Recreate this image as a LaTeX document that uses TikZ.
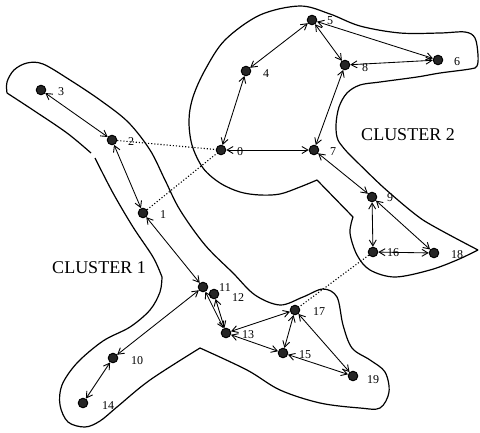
\documentclass[tikz,border=0pt]{standalone}
\usepackage{fontspec}
\setmainfont{Liberation Serif}
\usetikzlibrary{arrows.meta}
\begin{document}
\begin{tikzpicture}[x=1pt,y=-1pt,
  vtx/.style={circle, draw=black, line width=1pt, fill=black!85, inner sep=0pt, minimum size=9.5pt},
  lbl/.style={font=\fontsize{12}{14}\selectfont, inner sep=0pt},
  clab/.style={font=\fontsize{18}{20}\selectfont, inner sep=0pt},
  edge/.style={{Straight Barb[length=6pt,width=7pt,line width=0.9pt]}-{Straight Barb[length=6pt,width=7pt,line width=0.9pt]}, line width=0.85pt},
  dotl/.style={dotted, line width=1.1pt},
  outline/.style={line width=1.2pt, line join=round}]
\useasboundingbox (0,0) rectangle (480,432);

% cluster 2 outline
\draw[outline] plot[smooth, tension=0.55] coordinates {(478,250) (457,260) (430,270) (395,277) (370,270) (357,255) (350,233) (353,217)}
  -- (317,180)
  -- plot[smooth, tension=0.55] coordinates {(317,180) (300,187) (280,194) (260,195) (240,192) (220,183) (203,168) (192,145) (189,120) (193,97) (205,70) (225,40) (260,15) (300,6) (330,14) (360,26) (400,33) (440,33) (465,32) (475,38) (478,55) (477,66) (470,69) (440,73) (417,77) (380,82) (360,85) (347,93) (339,107) (336,125) (338,140) (348,153)}
  -- plot[smooth, tension=0.4] coordinates {(348,153) (383,187) (423,220) (478,250)};

% cluster 1 outline
\draw[outline] plot[smooth, tension=0.55] coordinates {(7,93) (7,82) (14,70) (27,63) (43,64) (70,80) (100,100) (128,122) (150,150) (165,180) (180,210) (205,245) (233,273) (255,295) (280,305) (303,297) (323,289) (337,297) (343,325) (352,348) (370,360) (385,372) (389,392) (380,408) (360,408) (320,403) (280,390) (247,370) (200,348)}
  -- plot[smooth, tension=0.55] coordinates {(200,348) (150,380) (117,407) (100,421) (85,427) (68,422) (60,405) (62,385) (77,363) (103,341) (130,327) (150,310) (160,292) (162,277)}
  -- plot[smooth, tension=0.55] coordinates {(162,277) (153,257) (133,227) (113,193) (95,158)};
\draw[outline] plot[smooth, tension=0.55] coordinates {(91,153) (67,133) (33,110) (7,93)};

% vertices
\node[vtx] (v0) at (221,150) {};
\node[vtx] (v1) at (143,213) {};
\node[vtx] (v2) at (112,140) {};
\node[vtx] (v3) at (41,90) {};
\node[vtx] (v4) at (246,71) {};
\node[vtx] (v5) at (312,20) {};
\node[vtx] (v6) at (438,60) {};
\node[vtx] (v7) at (314,150) {};
\node[vtx] (v8) at (345,65) {};
\node[vtx] (v9) at (372,197) {};
\node[vtx] (v10) at (113,358) {};
\node[vtx] (v11) at (203,287) {};
\node[vtx] (v12) at (214,294) {};
\node[vtx] (v13) at (226,333) {};
\node[vtx] (v14) at (83,403) {};
\node[vtx] (v15) at (283,353) {};
\node[vtx] (v16) at (373,252) {};
\node[vtx] (v17) at (295,310) {};
\node[vtx] (v18) at (434,253) {};
\node[vtx] (v19) at (353,376) {};

% labels
\node[lbl] (l0) at (240,152) {0};
\node[lbl] (l1) at (163,215) {1};
\node[lbl] (l2) at (131,142) {2};
\node[lbl] (l3) at (61,92) {3};
\node[lbl] (l4) at (266,74) {4};
\node[lbl] (l5) at (330,21) {5};
\node[lbl] (l6) at (457,62) {6};
\node[lbl] (l7) at (333,152) {7};
\node[lbl] (l8) at (365,68) {8};
\node[lbl] (l9) at (390,198) {9};
\node[lbl] (l10) at (137,361) {10};
\node[lbl] (l11) at (225,288) {11};
\node[lbl] (l12) at (238,298) {12};
\node[lbl] (l13) at (248,335) {13};
\node[lbl] (l14) at (108,406) {14};
\node[lbl] (l15) at (305,355) {15};
\node[lbl] (l16) at (393,253) {16};
\node[lbl] (l17) at (319,312) {17};
\node[lbl] (l18) at (457,255) {18};
\node[lbl] (l19) at (373,380) {19};

\node[clab] (c1) at (99,268) {CLUSTER 1};
\node[clab] (c2) at (408,135) {CLUSTER 2};

% dotted links
\draw[dotl] (v2) -- (v0);
\draw[dotl] (v1) -- (v0);
\draw[dotl] (v16) -- (v17);

% edges
\draw[edge] (v3) -- (v2);
\draw[edge] (v2) -- (v1);
\draw[edge] (v1) -- (v11);
\draw[edge] (v0) -- (v4);
\draw[edge] (v4) -- (v5);
\draw[edge] (v5) -- (v8);
\draw[edge] (v5) -- (v6);
\draw[edge] (v8) -- (v6);
\draw[edge] (v8) -- (v7);
\draw[edge] (v0) -- (v7);
\draw[edge] (v7) -- (v9);
\draw[edge] (v9) -- (v16);
\draw[edge] (v9) -- (v18);
\draw[edge] (v16) -- (v18);
\draw[edge] (v10) -- (v11);
\draw[edge] (v10) -- (v14);
\draw[edge] (v11) -- (v13);
\draw[edge] (v12) -- (v13);
\draw[edge] (v13) -- (v17);
\draw[edge] (v13) -- (v15);
\draw[edge] (v15) -- (v17);
\draw[edge] (v15) -- (v19);
\draw[edge] (v17) -- (v19);
\end{tikzpicture}
\end{document}
